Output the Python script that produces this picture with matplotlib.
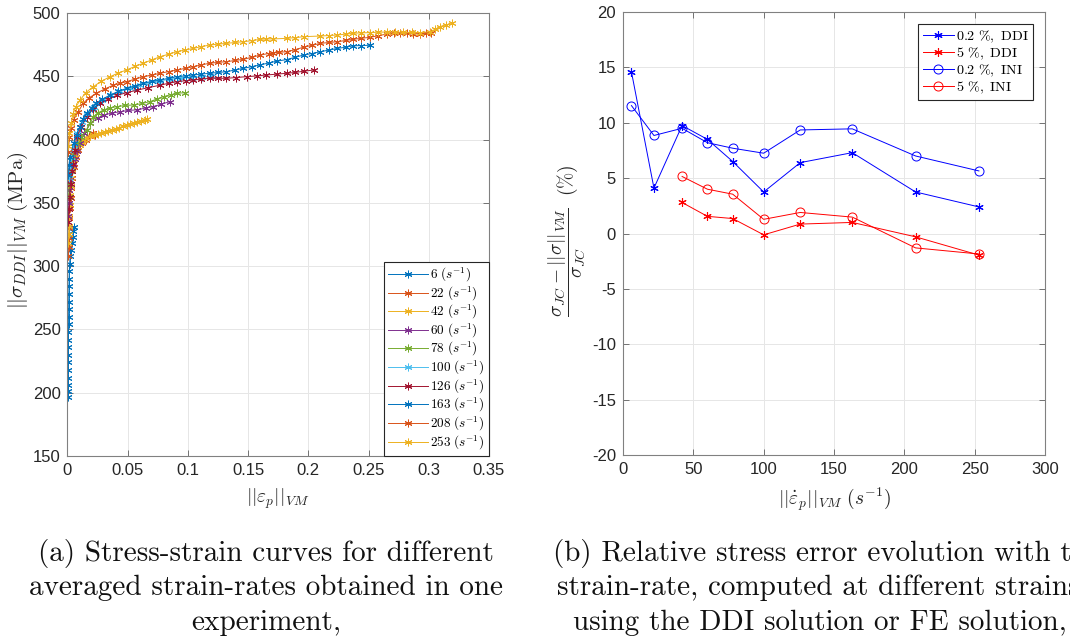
import numpy as np
import matplotlib
matplotlib.use('Agg')
import matplotlib.pyplot as plt

plt.rcParams['mathtext.fontset'] = 'cm'
plt.rcParams['font.family'] = ['Liberation Sans', 'DejaVu Sans']
plt.rcParams['axes.unicode_minus'] = False

# ---- (a) stress-strain curves, one per averaged strain-rate ----
rates = [6, 22, 42, 60, 78, 100, 126, 163, 208, 253]

x6 = [0.0003, 0.0004, 0.0005, 0.0005, 0.0006, 0.0006, 0.0007, 0.0007, 0.0008, 0.0008, 0.0009, 0.0009,
      0.0010, 0.0010, 0.0011, 0.0012, 0.0013, 0.0015, 0.0018, 0.0022, 0.0028, 0.0035, 0.0042, 0.0048, 0.0052]
y6 = [197, 201, 206, 212, 218, 224, 230, 236, 242, 248, 254, 260,
      266, 272, 278, 284, 290, 296, 302, 308, 313, 318, 323, 328, 331]

x22 = [0.0008, 0.001, 0.0012, 0.0014, 0.0016, 0.002, 0.0025, 0.003, 0.004, 0.005, 0.007, 0.009,
       0.012, 0.015, 0.018, 0.021, 0.023]
y22 = [308, 315, 322, 330, 338, 346, 354, 362, 370, 378, 386, 392, 397, 400, 403, 405, 404]

x42 = [0.0008, 0.001, 0.0012, 0.0015, 0.0018, 0.0022, 0.0027, 0.0033, 0.004, 0.005, 0.006, 0.0075,
       0.009, 0.0105, 0.012, 0.014, 0.0165, 0.019, 0.022, 0.025, 0.028, 0.031, 0.034, 0.037, 0.040,
       0.043, 0.046, 0.049, 0.052, 0.055, 0.058, 0.061, 0.064, 0.066]
y42 = [318, 325, 332, 340, 348, 356, 363, 370, 377, 384, 388, 391, 394, 396, 398, 400, 401.5, 402.5,
       403.5, 404.5, 405.5, 406, 406.5, 407.5, 408.5, 409.5, 410.5, 411.5, 412.5, 413, 414, 414.5, 415.5, 416]

x60 = [0.0008, 0.0011, 0.0015, 0.002, 0.003, 0.0045, 0.006, 0.008, 0.0104, 0.014, 0.019, 0.025,
       0.030, 0.037, 0.044, 0.050, 0.058, 0.065, 0.071, 0.078, 0.085]
y60 = [340, 350, 360, 368, 375, 380, 385, 391, 397, 405, 413, 417, 419.4, 421, 422, 423, 423.5,
       425, 426, 428, 430]

x78 = [0.001, 0.0015, 0.0025, 0.004, 0.006, 0.0076, 0.011, 0.016, 0.019, 0.0214, 0.025, 0.030,
       0.035, 0.041, 0.048, 0.055, 0.062, 0.0685, 0.074, 0.080, 0.086, 0.091, 0.0976]
y78 = [355, 365, 375, 386, 392, 397, 402, 407.6, 413, 418, 421, 423.4, 425, 426, 427, 427.3,
       428.5, 430, 432, 434, 435.5, 436.6, 437]

x100 = [0.001, 0.0018, 0.003, 0.005, 0.008, 0.012, 0.016, 0.022, 0.029, 0.036, 0.044, 0.052,
        0.060, 0.068, 0.076, 0.085, 0.094, 0.103, 0.112, 0.120]
y100 = [370, 378, 386, 395, 405, 414, 420, 426, 431, 435, 438, 441, 443, 445, 446.5, 447.5,
        448.5, 449, 449.5, 450]

x126 = [0.0008, 0.0012, 0.0018, 0.0025, 0.0035, 0.0045, 0.006, 0.0076, 0.0115, 0.016, 0.021,
        0.027, 0.034, 0.041, 0.049, 0.0575, 0.067, 0.077, 0.084, 0.091, 0.098, 0.1045, 0.111,
        0.118, 0.125, 0.132, 0.140, 0.149, 0.157, 0.165, 0.174, 0.182, 0.189, 0.196, 0.205]
y126 = [335, 345, 355, 365, 375, 381, 392, 402, 410, 418, 424, 428.7, 432, 435, 437, 439, 441,
        443, 444.5, 445.7, 446.5, 447, 447.8, 448.4, 448.4, 448.4, 449, 449.7, 450.3, 451, 451.7,
        452.4, 453, 454, 455]

x163 = [0.0008, 0.0012, 0.002, 0.005, 0.0075, 0.0104, 0.013, 0.016, 0.020, 0.024, 0.029, 0.035,
        0.042, 0.049, 0.056, 0.063, 0.070, 0.077, 0.084, 0.091, 0.098, 0.1045, 0.111, 0.118,
        0.125, 0.132, 0.139, 0.146, 0.153, 0.160, 0.167, 0.174, 0.182, 0.189, 0.196, 0.203,
        0.210, 0.217, 0.224, 0.231, 0.237, 0.244, 0.251]
y163 = [372, 380, 386.5, 397, 404, 410, 416, 420.8, 425, 428.7, 432, 435, 438, 440.5, 442.5,
        444.5, 446, 447, 448.5, 449.7, 450.4, 451, 451.7, 452.4, 453, 453.6, 455, 456.3, 457.6,
        459, 460.5, 462, 463.2, 465, 466.8, 468, 469.4, 470.7, 472, 473, 474, 474.3, 474.5]

x208 = [0.0008, 0.0015, 0.003, 0.005, 0.009, 0.013, 0.018, 0.024, 0.031, 0.038, 0.044, 0.049,
        0.056, 0.063, 0.070, 0.077, 0.084, 0.091, 0.098, 0.1045, 0.111, 0.118, 0.125, 0.132,
        0.139, 0.146, 0.153, 0.160, 0.167, 0.171, 0.176, 0.182, 0.189, 0.196, 0.203, 0.210,
        0.217, 0.224, 0.231, 0.237, 0.244, 0.251, 0.258, 0.265, 0.271, 0.276, 0.282, 0.287,
        0.293, 0.298, 0.302]
y208 = [390, 402, 409, 415.5, 422, 428.7, 433, 436.6, 440, 443, 444.5, 445.7, 447.8, 449.7, 451,
        452.4, 453.7, 455, 456.3, 457.6, 459, 460.3, 461, 461.5, 462.5, 463.4, 465, 466.8, 468,
        468.6, 469, 469.4, 471, 473, 474.5, 476, 476.7, 477.3, 478.3, 479.2, 480, 480.8, 482,
        483.4, 484, 484.4, 484, 483.4, 483.6, 484, 484]

x253 = [0.0007, 0.0014, 0.003, 0.0045, 0.007, 0.0104, 0.015, 0.0214, 0.028, 0.0353, 0.042,
        0.049, 0.056, 0.063, 0.070, 0.077, 0.084, 0.0907, 0.0975, 0.1045, 0.111, 0.118, 0.125,
        0.132, 0.139, 0.146, 0.153, 0.160, 0.165, 0.171, 0.182, 0.189, 0.196, 0.210, 0.217,
        0.224, 0.231, 0.237, 0.244, 0.251, 0.258, 0.265, 0.272, 0.279, 0.286, 0.293, 0.301,
        0.305, 0.309, 0.314, 0.319]
y253 = [395, 405, 413, 420, 426, 431, 437, 441.8, 446, 449.7, 452.5, 455, 457.8, 460.3, 463,
        465.5, 467.5, 469.4, 470.8, 472, 473.4, 474.7, 475.4, 476, 476.7, 477.3, 478.2, 479.2,
        479.5, 479.5, 480, 480.5, 481.3, 481.8, 482.2, 482.6, 483.3, 484, 484.3, 484.5, 484.8,
        485, 484.9, 484.7, 484.6, 484.5, 485.2, 487, 489.2, 490.5, 491.8]

curves = [(x6, y6), (x22, y22), (x42, y42), (x60, y60), (x78, y78),
          (x100, y100), (x126, y126), (x163, y163), (x208, y208), (x253, y253)]
colors = ['#0072BD', '#D95319', '#EDB120', '#7E2F8E', '#77AC30',
          '#4DBEEE', '#A2142F', '#0072BD', '#D95319', '#EDB120']

# ---- (b) relative stress error vs strain-rate ----
rate_02 = [6, 22, 42, 60, 78, 100, 126, 163, 208, 253]
ddi_02 = [14.6, 4.1, 9.75, 8.5, 6.5, 3.75, 6.4, 7.3, 3.75, 2.4]
ini_02 = [11.55, 8.85, 9.5, 8.2, 7.7, 7.25, 9.35, 9.45, 7.0, 5.65]
rate_5 = [42, 60, 78, 100, 126, 163, 208, 253]
ddi_5 = [2.8, 1.55, 1.35, -0.12, 0.85, 1.0, -0.3, -1.95]
ini_5 = [5.15, 4.0, 3.55, 1.28, 1.9, 1.48, -1.3, -1.85]

xt1 = [0, 0.05, 0.1, 0.15, 0.2, 0.25, 0.3, 0.35]
xt1_lab = ['0', '0.05', '0.1', '0.15', '0.2', '0.25', '0.3', '0.35']
yt1 = [150, 200, 250, 300, 350, 400, 450, 500]
xt2 = [0, 50, 100, 150, 200, 250, 300]
yt2 = [-20, -15, -10, -5, 0, 5, 10, 15, 20]

ast = (6, 2, 0)


def style(ax):
    ax.grid(True, color='#e6e6e6', linewidth=0.7)
    ax.set_axisbelow(True)
    for s in ax.spines.values():
        s.set_color('#808080')
        s.set_linewidth(0.8)
    ax.tick_params(direction='in', top=True, right=True, length=4, width=0.6,
                   color='#606060', labelsize=12, labelcolor='#262626', pad=5)


fig = plt.figure(figsize=(10.7, 6.39), dpi=100)

ax1 = fig.add_axes([67.5 / 1070, 1 - 456 / 639, 421.5 / 1070, 443 / 639])
for (x, y), c, r in zip(curves, colors, rates):
    ax1.plot(x, y, color=c, marker=ast, markersize=5.5, linewidth=0.7,
             markeredgewidth=0.7, label=r'$%d\ (s^{-1})$' % r)
ax1.set_xlim(0, 0.35)
ax1.set_ylim(150, 500)
ax1.set_xticks(xt1)
ax1.set_xticklabels(xt1_lab)
ax1.set_yticks(yt1)
style(ax1)
ax1.set_xlabel(r'$||\varepsilon_p||_{VM}$', fontsize=14, color='#262626')
ax1.set_ylabel(r'$||\sigma_{DDI}||_{VM}\ \mathrm{(MPa)}$', fontsize=15, color='#262626')
ax1.xaxis.set_label_coords(0.5, -0.068)
ax1.yaxis.set_label_coords(-0.088, 0.51)
leg1 = ax1.legend(loc='lower right', fontsize=9.5, borderaxespad=0.02, handlelength=3.0,
                  labelspacing=0.04, handletextpad=0.2, borderpad=0.3, fancybox=False,
                  framealpha=1, edgecolor='#262626')
leg1.get_frame().set_linewidth(0.8)

ax2 = fig.add_axes([623 / 1070, 1 - 455 / 639, 422 / 1070, 443 / 639])
ax2.plot(rate_02, ddi_02, color='b', marker=ast, markersize=6, linewidth=0.7,
         markeredgewidth=0.8, label=r'$0.2\ \%,\ \mathrm{DDI}$')
ax2.plot(rate_5, ddi_5, color='r', marker=ast, markersize=6, linewidth=0.7,
         markeredgewidth=0.8, label=r'$5\ \%,\ \mathrm{DDI}$')
ax2.plot(rate_02, ini_02, color='b', marker='o', markersize=6.5, linewidth=0.7,
         markeredgewidth=0.7, markerfacecolor='none', label=r'$0.2\ \%,\ \mathrm{INI}$')
ax2.plot(rate_5, ini_5, color='r', marker='o', markersize=6.5, linewidth=0.7,
         markeredgewidth=0.7, markerfacecolor='none', label=r'$5\ \%,\ \mathrm{INI}$')
ax2.set_xlim(0, 300)
ax2.set_ylim(-20, 20)
ax2.set_xticks(xt2)
ax2.set_yticks(yt2)
style(ax2)
ax2.set_xlabel(r'$||\dot{\varepsilon}_p||_{VM}\ (s^{-1})$', fontsize=14, color='#262626')
ax2.set_ylabel(r'$\dfrac{\sigma_{JC}-||\sigma||_{VM}}{\sigma_{JC}}\ \ (\%)$', fontsize=14,
               color='#262626')
ax2.xaxis.set_label_coords(0.5, -0.068)
ax2.yaxis.set_label_coords(-0.084, 0.485)
leg2 = ax2.legend(loc='upper right', fontsize=10.2, borderaxespad=0.85, handlelength=2.2,
                  labelspacing=0.05, handletextpad=0.15, borderpad=0.3, fancybox=False,
                  framealpha=1, edgecolor='#262626')
leg2.get_frame().set_linewidth(0.8)

# captions
cap = dict(fontfamily='cmr10', fontsize=21, va='center_baseline', color='#111111')
fig.text(266 / 1070, 1 - 550 / 639, '(a) Stress-strain curves for different', ha='center', **cap)
fig.text(266 / 1070, 1 - 585 / 639, 'averaged strain-rates obtained in one', ha='center', **cap)
fig.text(266 / 1070, 1 - 620 / 639, 'experiment,', ha='center', **cap)
fig.text(553 / 1070, 1 - 550 / 639, '(b) Relative stress error evolution with the', ha='left', **cap)
fig.text(557 / 1070, 1 - 585 / 639, 'strain-rate, computed at different strains', ha='left', **cap)
fig.text(820 / 1070, 1 - 620 / 639, 'using the DDI solution or FE solution,', ha='center', **cap)

fig.savefig('out.png', dpi=100)
